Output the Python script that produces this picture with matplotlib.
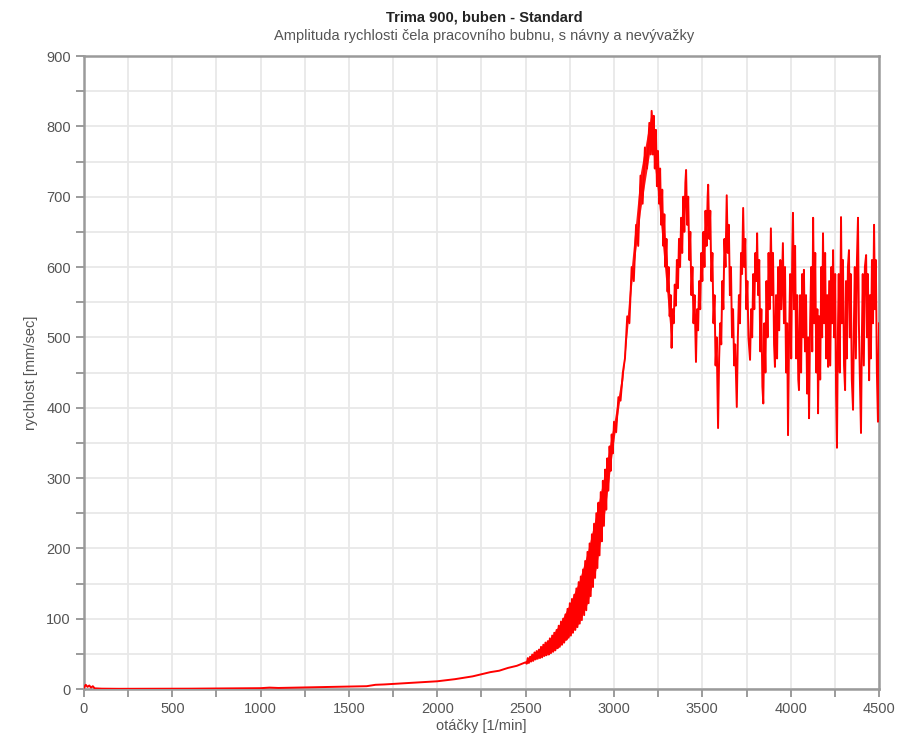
import matplotlib
matplotlib.use("Agg")
import matplotlib.pyplot as plt
from matplotlib.ticker import MultipleLocator

title = "Trima 900, buben - Standard"
subtitle = "Amplituda rychlosti čela pracovního bubnu, s návny a nevývažky"
xlabel = "otáčky [1/min]"
ylabel = "rychlost [mm/sec]"

# low speed part
rpm_low = [0, 10, 20, 30, 40, 50, 60, 100, 200, 400, 600, 800, 1000, 1050, 1100, 1200,
           1300, 1400, 1500, 1600, 1650, 1700, 1800, 1900, 2000, 2100, 2150, 2200, 2250,
           2300, 2350, 2400, 2450]
amp_low = [2, 6, 3, 5, 2, 4, 1, 0.5, 0.3, 0.4, 0.5, 0.8, 1.2, 2, 1.5, 2,
           2.5, 3, 3.5, 4, 6, 6.5, 8, 9.5, 11, 14, 16, 18, 21,
           24, 26, 30, 33]

# rising part (rapid oscillation)
rpm_rise = [2500, 2506, 2512, 2518, 2525, 2531, 2537, 2543, 2550, 2556, 2562, 2568, 2575,
            2581, 2587, 2593, 2600, 2606, 2612, 2618, 2625, 2631, 2637, 2643, 2650, 2656,
            2662, 2668, 2675, 2681, 2687, 2693, 2700, 2706, 2712, 2718, 2725, 2731, 2737,
            2743, 2750, 2756, 2762, 2768, 2775, 2781, 2787, 2793, 2800, 2806, 2812, 2818,
            2825, 2831, 2837, 2843, 2850, 2856, 2862, 2868, 2875, 2881, 2887, 2893, 2900,
            2906, 2912, 2918, 2925, 2931, 2937, 2943, 2950, 2956, 2962, 2968, 2975, 2981,
            2987, 2993, 3000, 3012, 3025, 3037, 3050, 3062, 3075, 3087, 3100, 3112, 3125,
            3137, 3150, 3162, 3175, 3187, 3200, 3207, 3213]
amp_rise = [38, 36, 44, 37, 46, 39, 49, 40, 52, 42, 54, 43, 56, 44, 60, 45, 63, 47, 66, 48,
            68, 49, 72, 51, 76, 53, 80, 55, 84, 58, 90, 60, 96, 63, 100, 66, 106, 70, 114,
            73, 122, 76, 128, 80, 134, 84, 143, 88, 152, 93, 160, 98, 170, 105, 182, 112,
            195, 122, 207, 132, 220, 145, 235, 158, 250, 172, 265, 190, 280, 210, 296, 232,
            312, 255, 328, 282, 345, 310, 362, 335, 380, 365, 415, 410, 450, 470, 530, 520,
            600, 580, 660, 630, 730, 690, 770, 740, 805, 760, 822]

# resonance region and chaotic tail
rpm_high = [3219, 3225, 3231, 3237, 3243, 3249, 3255, 3261, 3267, 3273, 3279, 3285, 3291,
            3297, 3303, 3309, 3315, 3321, 3326,
            3332, 3338, 3344, 3350, 3356, 3362, 3368, 3374, 3380, 3386, 3392, 3398, 3404, 3408,
            3414, 3420, 3426, 3432, 3438, 3444, 3450, 3456, 3464,
            3470, 3476, 3482, 3488, 3494, 3500, 3506, 3512, 3518, 3524, 3530, 3533,
            3539, 3545, 3551, 3557, 3563, 3569, 3575, 3581, 3589,
            3595, 3601, 3607, 3613, 3619, 3625, 3631, 3638,
            3644, 3650, 3656, 3662, 3668, 3674, 3680, 3686, 3695,
            3701, 3707, 3713, 3719, 3725, 3731,
            3737, 3743, 3749, 3755, 3761, 3770,
            3776, 3782, 3788, 3794, 3800, 3806, 3810,
            3816, 3822, 3828, 3834, 3840, 3845,
            3851, 3857, 3863, 3869, 3875, 3881, 3888,
            3894, 3900, 3906, 3911,
            3917, 3923, 3929, 3935, 3941, 3947, 3956,
            3962, 3968, 3974, 3980, 3985,
            3991, 3997, 4003, 4009, 4013,
            4019, 4025, 4031, 4037, 4043, 4047,
            4053, 4059, 4065, 4071, 4075,
            4081, 4087, 4093, 4099, 4104,
            4110, 4116, 4122, 4127,
            4133, 4139, 4145, 4151, 4155,
            4161, 4167, 4173, 4178, 4183,
            4189, 4195, 4201, 4207, 4212,
            4218, 4224, 4230, 4235, 4240,
            4246, 4252, 4257, 4262,
            4267, 4272, 4278, 4285,
            4290, 4296, 4302, 4308,
            4313, 4318, 4324, 4330,
            4335, 4340, 4346, 4353,
            4358, 4363, 4369, 4375, 4381,
            4386, 4391, 4398,
            4403, 4408, 4414, 4420, 4427,
            4432, 4437, 4444,
            4449, 4454, 4460, 4466, 4472,
            4477, 4482, 4488, 4494, 4500]
amp_high = [760, 815, 740, 795, 715, 765, 690, 740, 660, 710, 630, 675, 600,
            640, 565, 600, 530, 560, 485,
            540, 520, 575, 545, 610, 570, 640, 600, 670, 620, 700, 650, 720, 738,
            660, 700, 610, 650, 560, 600, 520, 560, 465,
            540, 510, 580, 540, 620, 580, 650, 600, 680, 630, 700, 717,
            640, 680, 580, 620, 520, 560, 460, 500, 371,
            470, 520, 490, 580, 540, 640, 600, 702,
            620, 660, 560, 600, 500, 540, 460, 490, 401,
            500, 560, 520, 620, 590, 684,
            600, 640, 540, 580, 500, 468,
            540, 500, 590, 540, 620, 580, 648,
            560, 610, 480, 540, 430, 406,
            520, 450, 580, 500, 620, 540, 655,
            560, 620, 490, 458,
            560, 470, 600, 510, 610, 540, 634,
            520, 600, 450, 520, 361,
            500, 590, 470, 620, 677,
            540, 630, 470, 560, 440, 425,
            560, 450, 590, 500, 596,
            480, 560, 420, 500, 385,
            520, 600, 480, 670,
            520, 620, 450, 540, 392,
            530, 440, 600, 500, 648,
            520, 620, 470, 560, 458,
            580, 460, 600, 520, 624,
            500, 590, 420, 343,
            500, 590, 450, 671,
            520, 610, 460, 425,
            580, 470, 600, 624,
            500, 590, 440, 397,
            520, 600, 470, 610, 670,
            520, 450, 364,
            500, 590, 460, 600, 617,
            500, 590, 439,
            560, 470, 610, 520, 660,
            540, 610, 450, 380, 520]

# envelope of the densely oscillating band before and at the resonance
rpm_env = [2500, 2550, 2600, 2650, 2700, 2750, 2800, 2850, 2900, 2950, 3000, 3050, 3100,
           3150, 3200, 3213, 3250, 3300, 3326]
env_hi = [40, 52, 63, 76, 96, 122, 152, 195, 250, 312, 380, 455, 605, 735, 805, 822, 750,
          610, 500]
env_lo = [36, 42, 47, 53, 63, 76, 93, 122, 172, 255, 355, 440, 575, 680, 760, 780, 700,
          560, 485]

rpm = rpm_low + rpm_rise + rpm_high
amp = amp_low + amp_rise + amp_high

plt.rcParams['font.family'] = ['Liberation Sans', 'DejaVu Sans']
fig = plt.figure(figsize=(9.01, 7.40), dpi=100)
ax = fig.add_axes([0.0932, 0.0689, 0.8824, 0.8554])

ax.fill_between(rpm_env, env_lo, env_hi, color='#ff0000', alpha=0.9, lw=0, zorder=2)
ax.plot(rpm, amp, color='#ff0000', lw=1.4, zorder=3)

ax.set_xlim(0, 4500)
ax.set_ylim(0, 900)
ax.xaxis.set_major_locator(MultipleLocator(500))
ax.xaxis.set_minor_locator(MultipleLocator(250))
ax.yaxis.set_major_locator(MultipleLocator(100))
ax.yaxis.set_minor_locator(MultipleLocator(50))
ax.grid(which='both', color='#e8e8e8', lw=1.3, zorder=0)
ax.set_axisbelow(True)

for s in ax.spines.values():
    s.set_color('#9a9a9a')
    s.set_linewidth(1.8)
ax.tick_params(which='both', direction='out', color='#8a8a8a', width=1.2,
               labelcolor='#555555', labelsize=10.5)
ax.tick_params(which='major', length=6)
ax.tick_params(which='minor', length=6)

ax.set_xlabel(xlabel, fontsize=10.5, color='#555555', labelpad=2)
ax.set_ylabel(ylabel, fontsize=10.5, color='#555555', labelpad=6)

fig.text(0.5375, 0.977, title, ha='center', va='center', fontsize=10.5,
         fontweight='bold', color='#222222')
fig.text(0.5375, 0.952, subtitle, ha='center', va='center', fontsize=10.5,
         color='#555555')

fig.savefig('out.png', dpi=100, facecolor='white')
